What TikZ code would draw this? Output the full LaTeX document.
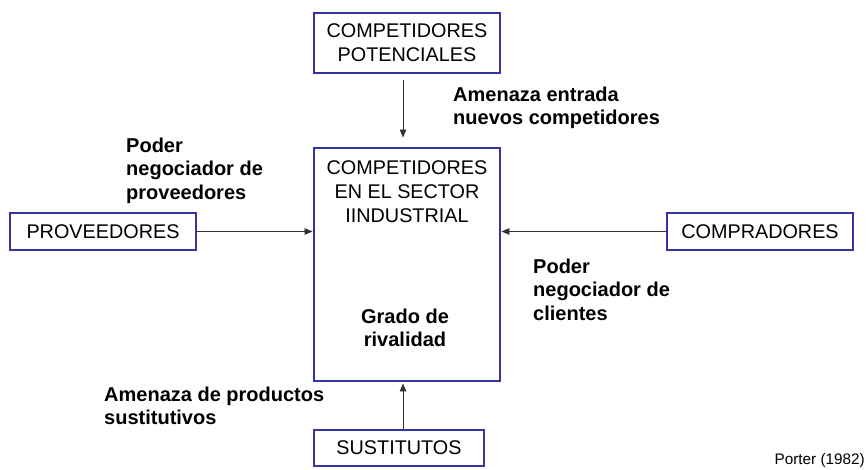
\documentclass[tikz,border=0pt]{standalone}
\usepackage{fontspec}
\setmainfont{Liberation Sans}
\usetikzlibrary{arrows.meta}
\definecolor{boxblue}{RGB}{52,52,160}
\definecolor{arrgray}{RGB}{50,50,50}
\tikzset{
  fbox/.style={draw=boxblue, line width=2.9pt, inner sep=0pt, align=center,
    font=\fontsize{19.8}{24}\selectfont},
  arr/.style={draw=arrgray, line width=0.8pt, -{Triangle[length=8pt,width=6.5pt]}},
  lbl/.style={inner sep=0pt, anchor=north west, align=left,
    font=\bfseries\fontsize{20}{23.5}\selectfont},
  btxt/.style={inner sep=0pt, align=center, font=\fontsize{19.8}{24}\selectfont},
}
\begin{document}
\begin{tikzpicture}[x=1pt,y=1pt]
\useasboundingbox (0,0) rectangle (866,470);
% boxes
\node[fbox, minimum width=186pt, minimum height=60pt] (top) at (407,427) {COMPETIDORES\\POTENCIALES};
\node[fbox, minimum width=186pt, minimum height=233pt] (center) at (407,205.5) {};
\node[fbox, minimum width=186pt, minimum height=37pt] (prov) at (103,238.5) {PROVEEDORES};
\node[fbox, minimum width=186pt, minimum height=37pt] (comp) at (760,238.5) {COMPRADORES};
\node[fbox, minimum width=170pt, minimum height=36pt] (sust) at (399,22) {SUSTITUTOS};
% texts in centre box
\node[btxt, anchor=north] (ctext) at (407,310) {COMPETIDORES\\EN EL SECTOR\\IINDUSTRIAL};
\node[lbl, anchor=north, align=center] (grado) at (405,161.5) {Grado de\\rivalidad};
% labels
\node[lbl] (l1) at (453,383.5) {Amenaza entrada\\nuevos competidores};
\node[lbl] (l2) at (126,332.5) {Poder\\negociador de\\proveedores};
\node[lbl] (l3) at (533,211.5) {Poder\\negociador de\\clientes};
\node[lbl] (l4) at (104,83.5) {Amenaza de productos\\sustitutivos};
\node[inner sep=0pt, anchor=base east, font=\fontsize{15.3}{17}\selectfont] (porter) at (865,5) {Porter (1982)};
% arrows
\draw[arr] ([xshift=-4pt,yshift=-6pt]top.south) -- ([xshift=-4pt,yshift=9pt]center.north);
\draw[arr] (prov.east) -- (prov.east -| center.west);
\draw[arr] (comp.west) -- (comp.west -| center.east);
\draw[arr, shorten >=1pt] ([xshift=4pt]sust.north) -- ([xshift=4pt]sust.north |- center.south);
\end{tikzpicture}
\end{document}
